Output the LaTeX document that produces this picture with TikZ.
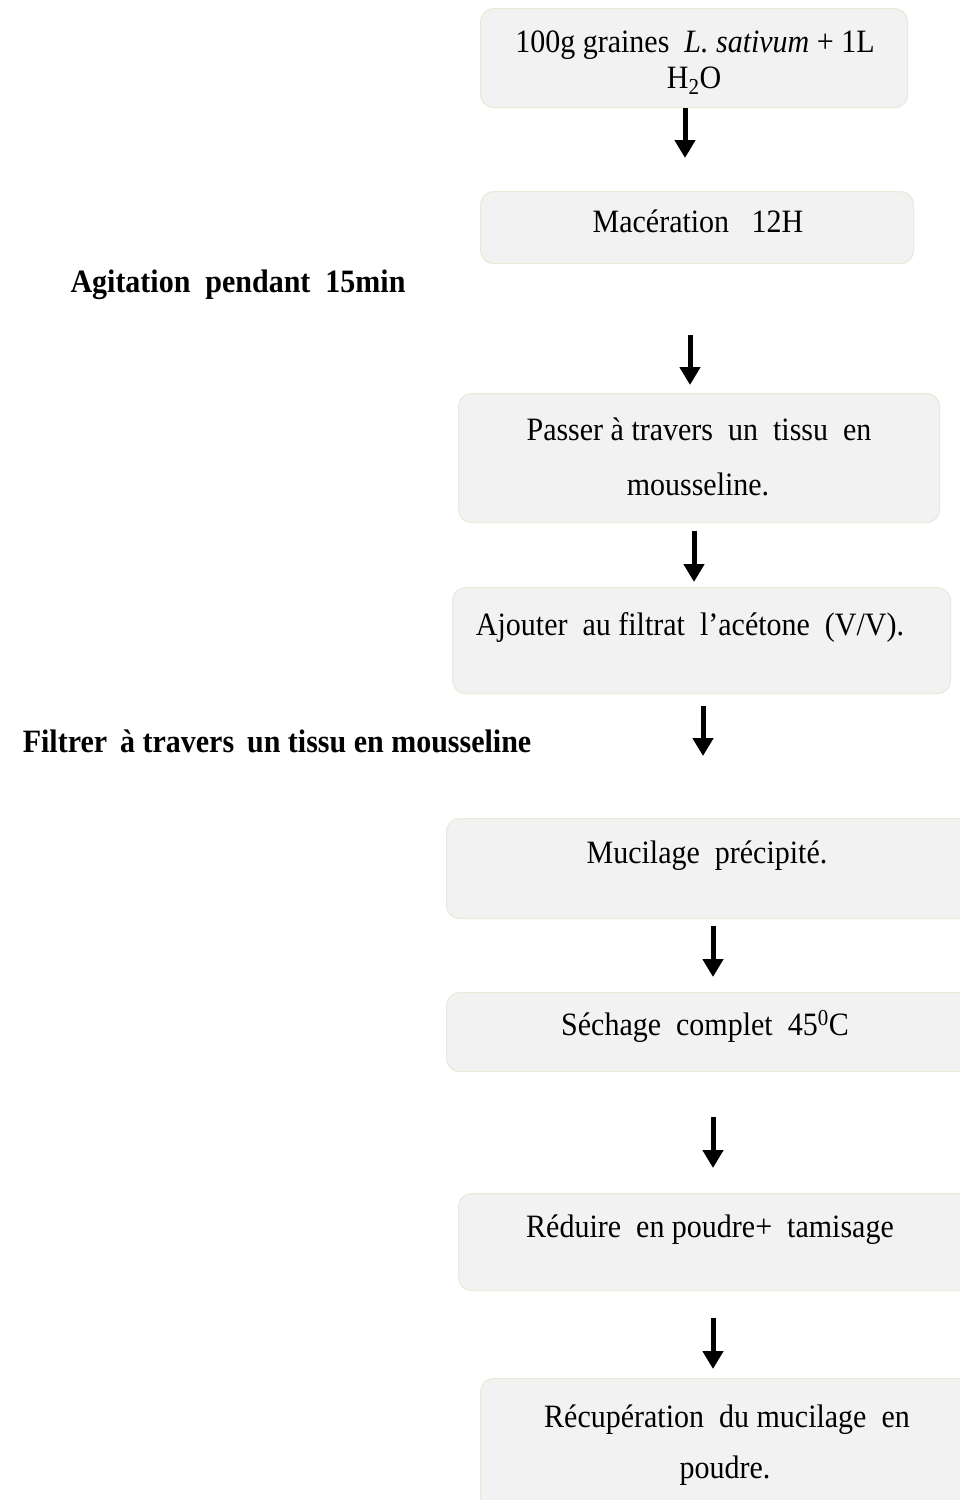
\documentclass[tikz,border=0pt]{standalone}
\usepackage{fontspec}
\setmainfont{Liberation Serif}[FakeStretch=0.92]
\usetikzlibrary{arrows.meta}
\definecolor{boxfill}{HTML}{F2F2F2}
\definecolor{boxline}{HTML}{ECE9DA}
\tikzset{
  stepbox/.style={draw=boxline, line width=1.2pt, fill=boxfill, rounded corners=13pt, anchor=north west, inner sep=0pt},
  txt/.style={inner sep=0pt, anchor=base, font=\fontsize{32.6}{38}\selectfont, align=center},
  side/.style={inner sep=0pt, anchor=base, font=\fontsize{32.6}{38}\selectfont\bfseries},
  flow/.style={line width=5pt, -{Triangle[width=20pt,length=18pt]}}
}
\begin{document}
\begin{tikzpicture}[x=1pt,y=-1pt]
\useasboundingbox (0,0) rectangle (959,1500);
% boxes
\node[stepbox, minimum width=427pt, minimum height=99pt] (b1) at (480,8) {};
\node[stepbox, minimum width=433pt, minimum height=72pt] (b2) at (480,191) {};
\node[stepbox, minimum width=481pt, minimum height=129pt] (b3) at (458,393) {};
\node[stepbox, minimum width=498pt, minimum height=106pt] (b4) at (452,587) {};
\node[stepbox, minimum width=530pt, minimum height=100pt] (b5) at (446,818) {};
\node[stepbox, minimum width=530pt, minimum height=79pt] (b6) at (446,992) {};
\node[stepbox, minimum width=520pt, minimum height=97pt] (b7) at (458,1193) {};
\node[stepbox, minimum width=500pt, minimum height=140pt] (b8) at (480,1378) {};
% texts
\node[txt] (t1a) at (695,52) {100g graines \ \textit{L. sativum} + 1L};
\node[txt] (t1b) at (694,88) {H\textsubscript{2}O};
\node[txt] (t2) at (698,232) {Macération \ \ 12H};
\node[txt] (t3a) at (699,440) {Passer à travers \ un \ tissu \ en};
\node[txt] (t3b) at (698,495) {mousseline.};
\node[txt] (t4) at (690,635) {Ajouter \ au filtrat \ l’acétone \ (V/V).};
\node[txt] (t5) at (707,863) {Mucilage \ précipité.};
\node[txt] (t6) at (705,1035) {Séchage \ complet \ 45\textsuperscript{0}C};
\node[txt] (t7) at (710,1237) {Réduire \ en poudre+ \ tamisage};
\node[txt] (t8a) at (727,1427) {Récupération \ du mucilage \ en};
\node[txt] (t8b) at (725,1478) {poudre.};
% side labels
\node[side] (s1) at (238,292) {Agitation \ pendant \ 15min};
\node[side] (s2) at (277,752) {Filtrer \,à travers \,un tissu en mousseline};
% arrows
\coordinate (a1s) at (685,108); \coordinate (a1e) at (685,158);
\coordinate (a2s) at (690,335); \coordinate (a2e) at (690,385);
\coordinate (a3s) at (694,531); \coordinate (a3e) at (694,582);
\coordinate (a4s) at (703,706); \coordinate (a4e) at (703,756);
\coordinate (a5s) at (713,926); \coordinate (a5e) at (713,977);
\coordinate (a6s) at (713,1117); \coordinate (a6e) at (713,1168);
\coordinate (a7s) at (713,1318); \coordinate (a7e) at (713,1369);
\draw[flow] (a1s) -- (a1e);
\draw[flow] (a2s) -- (a2e);
\draw[flow] (a3s) -- (a3e);
\draw[flow] (a4s) -- (a4e);
\draw[flow] (a5s) -- (a5e);
\draw[flow] (a6s) -- (a6e);
\draw[flow] (a7s) -- (a7e);
\end{tikzpicture}
\end{document}
